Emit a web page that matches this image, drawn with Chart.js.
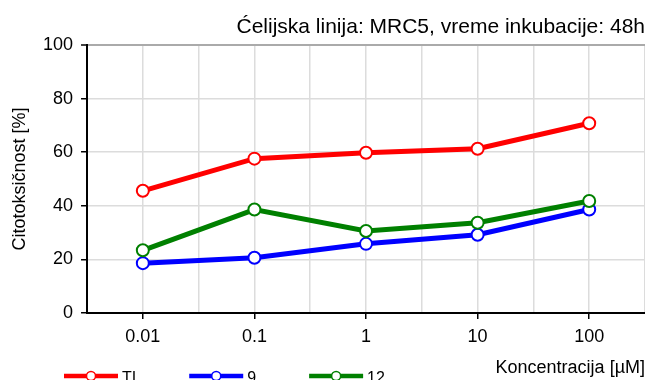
<!DOCTYPE html>
<html>
<head>
<meta charset="utf-8">
<script src="https://cdn.jsdelivr.net/npm/chart.js@4/dist/chart.umd.min.js"></script>
<style>
  body { margin: 0; background: #fff; }
  #wrap { width: 645px; height: 380px; position: relative; }
</style>
</head>
<body>
<div id="wrap"><canvas id="myChart"></canvas></div>
<script>
// concentrations on the x axis (µM), one tick per decade
const concentrations = ['0.01', '0.1', '1', '10', '100'];
// cytotoxicity in % for each compound
const valuesTI = [45.6, 57.6, 59.8, 61.3, 70.8];
const values9 = [18.6, 20.6, 25.8, 29.2, 38.6];
const values12 = [23.4, 38.6, 30.6, 33.7, 41.8];
const yTicks = [0, 20, 40, 60, 80, 100];

const fontFamily = '"Liberation Sans", Arial, sans-serif';
Chart.defaults.font.family = fontFamily;
Chart.defaults.color = '#000';

function toPoints(values) {
    return values.map((v, i) => ({ x: i, y: v }));
}

function makeSet(label, values, color, order) {
    return {
        label: label,
        data: toPoints(values),
        borderColor: color,
        backgroundColor: '#fff',
        borderWidth: 5,
        pointRadius: 6,
        pointHoverRadius: 6,
        pointBorderWidth: 2,
        pointBackgroundColor: '#fff',
        pointBorderColor: color,
        tension: 0,
        order: order
    };
}

// legend drawn as a short line with a marker, below the plot
const lineLegend = {
    id: 'lineLegend',
    afterDraw(chart) {
        const ctx = chart.ctx;
        let x = 64;
        const y = 376;
        ctx.save();
        ctx.font = '16px ' + fontFamily;
        ctx.textBaseline = 'middle';
        chart.data.datasets.forEach(ds => {
            ctx.strokeStyle = ds.borderColor;
            ctx.lineWidth = 4.5;
            ctx.beginPath();
            ctx.moveTo(x, y);
            ctx.lineTo(x + 54, y);
            ctx.stroke();
            ctx.beginPath();
            ctx.arc(x + 27, y, 4.5, 0, Math.PI * 2);
            ctx.fillStyle = '#fff';
            ctx.fill();
            ctx.lineWidth = 1.5;
            ctx.stroke();
            ctx.fillStyle = '#000';
            ctx.fillText(ds.label, x + 58, y + 3);
            x += 58 + ctx.measureText(ds.label).width + 53;
        });
        ctx.restore();
    }
};

const data = {
    datasets: [
        makeSet('TI', valuesTI, '#ff0000', 0),
        makeSet('9', values9, '#0000ff', 2),
        makeSet('12', values12, '#008000', 1)
    ]
};

const config = {
    type: 'line',
    data: data,
    plugins: [lineLegend],
    options: {
        responsive: true,
        maintainAspectRatio: false,
        animation: false,
        layout: { padding: 0, autoPadding: false },
        plugins: {
            legend: { display: false },
            tooltip: { enabled: false },
            title: {
                display: true,
                text: 'Ćelijska linija: MRC5, vreme inkubacije: 48h',
                align: 'end',
                color: '#000',
                font: { size: 21, weight: 'normal' },
                padding: { top: 14.4, bottom: 5.4 }
            }
        },
        scales: {
            x: {
                type: 'linear',
                min: -0.5,
                max: concentrations.length - 0.5,
                border: { color: '#000', width: 2 },
                grid: {
                    color: '#dcdcdc',
                    lineWidth: 1.5,
                    tickLength: 6,
                    tickWidth: 1.5,
                    tickColor: c => Number.isInteger(c.tick.value) ? '#000' : 'rgba(0,0,0,0)'
                },
                ticks: {
                    stepSize: 0.5,
                    autoSkip: false,
                    maxRotation: 0,
                    padding: 7,
                    font: { size: 18 },
                    callback: v => Number.isInteger(v) ? concentrations[v] : ''
                },
                // plot runs right up to the canvas edges
                afterFit: axis => {
                    axis.paddingLeft = 0;
                    axis.paddingRight = 0;
                },
                title: {
                    display: true,
                    text: 'Koncentracija [µM]',
                    align: 'end',
                    font: { size: 18 },
                    padding: { top: 2.6, bottom: 1.2 }
                }
            },
            y: {
                min: yTicks[0],
                max: yTicks[yTicks.length - 1],
                border: { color: '#000', width: 2 },
                grid: {
                    color: c => c.tick.value === 100 ? '#aaaaaa' : '#dcdcdc',
                    lineWidth: c => c.tick.value === 100 ? 2 : 1.5,
                    tickLength: 6,
                    tickWidth: 1.5,
                    tickColor: '#000'
                },
                afterBuildTicks: axis => {
                    axis.ticks = yTicks.map(v => ({ value: v }));
                },
                ticks: {
                    padding: 8,
                    font: { size: 18 }
                },
                title: {
                    display: true,
                    text: 'Citotoksičnost [%]',
                    font: { size: 18 },
                    padding: { top: 9, bottom: 4.4 }
                }
            }
        }
    }
};

const myChart = new Chart(document.getElementById('myChart'), config);
</script>
</body>
</html>
